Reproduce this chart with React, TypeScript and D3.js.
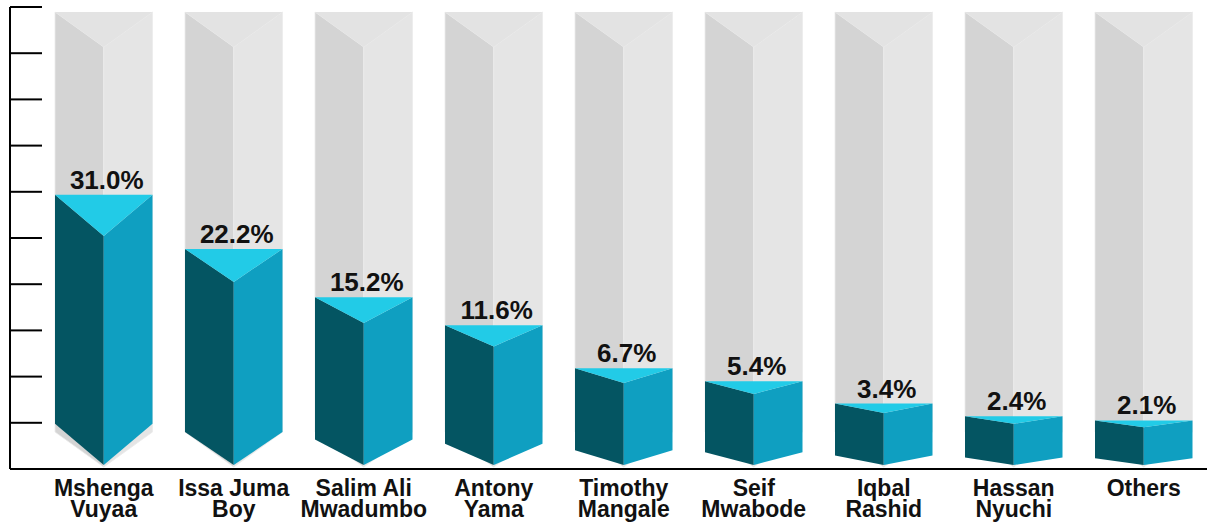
import React from 'react';
import * as d3 from 'd3';

// Candidates and vote share (%)
const CATEGORIES = [
  'Mshenga\nVuyaa', 'Issa Juma\nBoy', 'Salim Ali\nMwadumbo', 'Antony\nYama',
  'Timothy\nMangale', 'Seif\nMwabode', 'Iqbal\nRashid', 'Hassan\nNyuchi', 'Others',
];
const SHARES = [31.0, 22.2, 15.2, 11.6, 6.7, 5.4, 3.4, 2.4, 2.1];
const AXIS_TICKS = d3.range(0, 11);

const W = 1207;
const H = 522;
const FONT = '"Liberation Sans", Arial, Helvetica, sans-serif';

const C_DARK = '#045562';
const C_MID = '#0f9fc1';
const C_TOP = '#22cbe7';
const G_LEFT = '#d4d4d4';
const G_RIGHT = '#e5e5e5';
const G_TOP = '#e3e3e3';

const BASE_Y = 465;   // front-edge bottom of coloured prisms
const DEPTH = 0.18;   // top-face depth relative to prism height

type Pt = [number, number];
const poly = (pts: Pt[]) => 'M' + pts.map(p => p.join(',')).join('L') + 'Z';

export default function App() {
  const x = d3.scaleBand<string>()
    .domain(CATEGORIES)
    .range([55, 1192.5])
    .paddingInner(0.25)
    .paddingOuter(0);

  const h = d3.scalePow()
    .exponent(0.67)
    .domain([0, d3.max(SHARES) as number])
    .range([0, 229]);

  const yAxis = d3.scaleLinear().domain([0, 10]).range([469, 7]);

  const bw = x.bandwidth();
  const half = bw / 2;

  // grey background prism
  const gTop = 12, gDepth = 35, gBottom = 467;

  return (
    <div style={{ position: 'fixed', left: 0, top: 0, width: W, height: H, background: '#fff' }}>
      <svg width={W} height={H} style={{ display: 'block' }} fontFamily={FONT}>
        {CATEGORIES.map((c, i) => {
          const cx = (x(c) as number) + half;
          const l = cx - half, r = cx + half;
          const ht = h(SHARES[i]);
          const d = ht * DEPTH;
          const top = BASE_Y - ht;
          return (
            <g key={c}>
              {/* grey track */}
              <path d={poly([[l, gTop], [cx, gTop + gDepth], [cx, gBottom], [l, gBottom - gDepth]])}
                fill={G_LEFT} stroke="#ebebeb" strokeWidth={0.8} />
              <path d={poly([[cx, gTop + gDepth], [r, gTop], [r, gBottom - gDepth], [cx, gBottom]])}
                fill={G_RIGHT} stroke="#ebebeb" strokeWidth={0.8} />
              <path d={poly([[l, gTop], [r, gTop], [cx, gTop + gDepth]])} fill={G_TOP} />
              {/* value prism */}
              <path d={poly([[l, top - d], [cx, top], [cx, BASE_Y], [l, BASE_Y - d]])} fill={C_DARK} />
              <path d={poly([[cx, top], [r, top - d], [r, BASE_Y - d], [cx, BASE_Y]])} fill={C_MID} />
              <path d={poly([[l, top - d], [r, top - d], [cx, top]])} fill={C_TOP} />
              <text x={cx + 3} y={top - d - 6} textAnchor="middle" fontSize={26} fontWeight="bold" fill="#111">
                {SHARES[i].toFixed(1)}%
              </text>
              <text x={cx} y={496} textAnchor="middle" fontSize={23} fontWeight="bold" fill="#111">
                {c.split('\n').map((line, j) => (
                  <tspan key={j} x={cx} dy={j === 0 ? 0 : 21}>{line}</tspan>
                ))}
              </text>
            </g>
          );
        })}

        {/* axes */}
        <line x1={10} x2={10} y1={yAxis(10)} y2={yAxis(0)} stroke="#000" strokeWidth={2} />
        {AXIS_TICKS.map(t => (
          <line key={t} x1={10} x2={42} y1={yAxis(t)} y2={yAxis(t)} stroke="#000" strokeWidth={2} />
        ))}
        <line x1={10} x2={W} y1={yAxis(0)} y2={yAxis(0)} stroke="#000" strokeWidth={2} />
      </svg>
    </div>
  );
}
